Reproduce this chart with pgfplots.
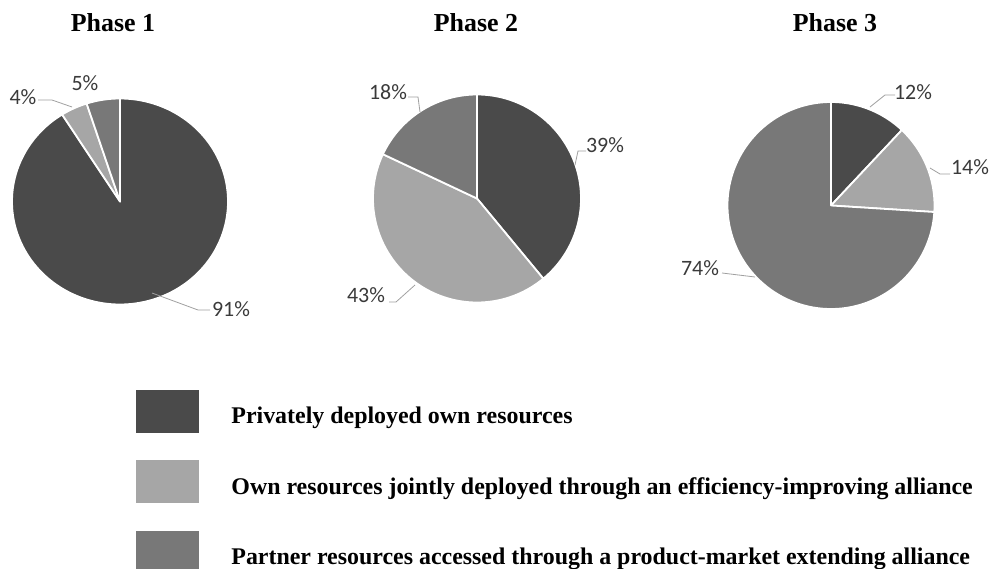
\documentclass[border=0pt]{standalone}
\usepackage{pgfplots}
\pgfplotsset{compat=1.18}
\usepackage{fontspec}
\setmainfont{Liberation Serif}
\newfontfamily\lblfont{Carlito}
\definecolor{cA}{HTML}{4A4A4A}
\definecolor{cB}{HTML}{A6A6A6}
\definecolor{cC}{HTML}{787878}
\definecolor{lead}{HTML}{A0A0A0}
\definecolor{lbl}{HTML}{3A3A3A}
% \slice{cx}{cy}{rx}{ry}{start %}{end %}{colour}
\newcommand{\slice}[7]{%
  \addplot[fill=#7, draw=white, line width=1.8bp, line join=round, forget plot,
    domain={90-3.6*#6}:{90-3.6*#5}, samples=150, variable=\t]
    ({#1+#3*cos(\t)}, {#2+#4*sin(\t)}) -- (axis cs:#1,#2) -- cycle;}
\newcommand{\pct}[3]{\node[font=\lblfont\fontsize{22}{25}\selectfont, text=lbl, inner sep=0pt] at (axis cs:#1,#2) {#3\%};}
\begin{document}
\begin{tikzpicture}
\path[use as bounding box] (0,0) rectangle (994bp,569bp);
\begin{axis}[
  x=1bp, y=1bp, xmin=0, xmax=994, ymin=0, ymax=569,
  at={(0,0)}, anchor=south west, scale only axis, hide axis, clip=false,
  legend style={at={(axis cs:136,179)}, anchor=north west, draw=none, fill=none,
    inner sep=0pt, outer sep=0pt, row sep=28bp,
    nodes={inner sep=0pt},
    font=\fontsize{24}{28}\selectfont\bfseries,
    /tikz/every odd column/.append style={column sep=33bp}},
  legend cell align=left,
]
% Phase 1: 91 / 4 / 5
\slice{120}{367.5}{108}{103}{0}{91}{cA}
\slice{120}{367.5}{108}{103}{91}{95}{cB}
\slice{120}{367.5}{108}{103}{95}{100}{cC}
% Phase 2: 39 / 43 / 18
\slice{477}{370.5}{104}{104}{0}{39}{cA}
\slice{477}{370.5}{104}{104}{39}{82}{cB}
\slice{477}{370.5}{104}{104}{82}{100}{cC}
% Phase 3: 12 / 14 / 74
\slice{831}{363.5}{103.5}{103.5}{0}{12}{cA}
\slice{831}{363.5}{103.5}{103.5}{12}{26}{cB}
\slice{831}{363.5}{103.5}{103.5}{26}{100}{cC}

\addlegendimage{legend image code/.code={\fill[cA] (0bp,-16bp) rectangle (62bp,26bp);}}
\addlegendentry{Privately deployed own resources}
\addlegendimage{legend image code/.code={\fill[cB] (0bp,-16bp) rectangle (62bp,26bp);}}
\addlegendentry{Own resources jointly deployed through an efficiency-improving alliance}
\addlegendimage{legend image code/.code={\fill[cC] (0bp,-16bp) rectangle (62bp,26bp);}}
\addlegendentry{Partner resources accessed through a product-market extending alliance}

% leader lines
\draw[lead, line width=0.8bp] (axis cs:38,469) -- (axis cs:52,469) -- (axis cs:72,462);
\draw[lead, line width=0.8bp] (axis cs:152,276) -- (axis cs:198,259) -- (axis cs:210,259);
\draw[lead, line width=0.8bp] (axis cs:408,472) -- (axis cs:418,472) -- (axis cs:420,457);
\draw[lead, line width=0.8bp] (axis cs:586,418) -- (axis cs:578,418) -- (axis cs:575,404);
\draw[lead, line width=0.8bp] (axis cs:389,267) -- (axis cs:396,267) -- (axis cs:415,284);
\draw[lead, line width=0.8bp] (axis cs:895,474) -- (axis cs:885,474) -- (axis cs:870,462);
\draw[lead, line width=0.8bp] (axis cs:950,395) -- (axis cs:940,395) -- (axis cs:930,401);
\draw[lead, line width=0.8bp] (axis cs:722,296) -- (axis cs:755,292);

% percentage labels
\pct{23}{472}{4}
\pct{85}{486}{5}
\pct{231}{260}{91}
\pct{388}{477}{18}
\pct{605}{424}{39}
\pct{366}{274}{43}
\pct{913}{477}{12}
\pct{970}{402}{14}
\pct{700}{301}{74}

% titles
\node[anchor=base, font=\fontsize{26}{31}\selectfont\bfseries] at (axis cs:113,537) {Phase 1};
\node[anchor=base, font=\fontsize{26}{31}\selectfont\bfseries] at (axis cs:476,537) {Phase 2};
\node[anchor=base, font=\fontsize{26}{31}\selectfont\bfseries] at (axis cs:835,537) {Phase 3};
\end{axis}
\end{tikzpicture}
\end{document}
